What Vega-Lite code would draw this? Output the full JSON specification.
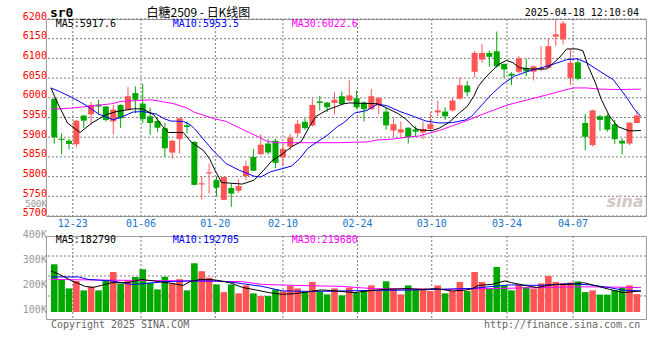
{
"$schema":"https://vega.github.io/schema/vega-lite/v6.json",
"background":"#ffffff",
"padding":{"left":21.9,"top":5,"right":10,"bottom":10},
"bounds":"flush",
"spacing":20,
"config":{"view":{"stroke":"#999999","strokeWidth":1},"font":"DejaVu Sans Mono"},
"datasets":{
"k":[
{"i":0,"o":5997,"h":6000,"l":5884,"c":5900,"v":292000},
{"i":1,"o":5896,"h":5910,"l":5857,"c":5893,"v":232000},
{"i":2,"o":5891,"h":5896,"l":5869,"c":5883,"v":195000},
{"i":3,"o":5882,"h":5944,"l":5874,"c":5942,"v":225000},
{"i":4,"o":5955,"h":5956,"l":5923,"c":5942,"v":187000},
{"i":5,"o":5958,"h":5990,"l":5931,"c":5982,"v":202000},
{"i":6,"o":5983,"h":5995,"l":5957,"c":5978,"v":187000},
{"i":7,"o":5978,"h":5979,"l":5940,"c":5944,"v":225000},
{"i":8,"o":5940,"h":5982,"l":5907,"c":5970,"v":261000},
{"i":9,"o":5982,"h":5983,"l":5923,"c":5948,"v":214000},
{"i":10,"o":5970,"h":6027,"l":5968,"c":6004,"v":225000},
{"i":11,"o":6012,"h":6029,"l":5961,"c":5995,"v":241000},
{"i":12,"o":5985,"h":6035,"l":5936,"c":5946,"v":272000},
{"i":13,"o":5953,"h":5975,"l":5906,"c":5936,"v":218000},
{"i":14,"o":5941,"h":5948,"l":5913,"c":5924,"v":191000},
{"i":15,"o":5923,"h":5936,"l":5850,"c":5872,"v":242000},
{"i":16,"o":5861,"h":5893,"l":5846,"c":5891,"v":215000},
{"i":17,"o":5895,"h":5948,"l":5859,"c":5948,"v":232000},
{"i":18,"o":5930,"h":5940,"l":5910,"c":5926,"v":187000},
{"i":19,"o":5888,"h":5890,"l":5778,"c":5779,"v":296000},
{"i":20,"o":5780,"h":5800,"l":5742,"c":5783,"v":264000},
{"i":21,"o":5808,"h":5833,"l":5757,"c":5811,"v":238000},
{"i":22,"o":5791,"h":5799,"l":5751,"c":5772,"v":211000},
{"i":23,"o":5741,"h":5800,"l":5740,"c":5799,"v":180000},
{"i":24,"o":5771,"h":5782,"l":5723,"c":5757,"v":211000},
{"i":25,"o":5764,"h":5793,"l":5759,"c":5776,"v":175000},
{"i":26,"o":5801,"h":5840,"l":5791,"c":5827,"v":207000},
{"i":27,"o":5850,"h":5870,"l":5814,"c":5815,"v":175000},
{"i":28,"o":5857,"h":5908,"l":5855,"c":5881,"v":164000},
{"i":29,"o":5884,"h":5895,"l":5856,"c":5861,"v":164000},
{"i":30,"o":5891,"h":5897,"l":5821,"c":5835,"v":191000},
{"i":31,"o":5849,"h":5883,"l":5827,"c":5870,"v":183000},
{"i":32,"o":5876,"h":5908,"l":5867,"c":5899,"v":205000},
{"i":33,"o":5910,"h":5944,"l":5901,"c":5934,"v":195000},
{"i":34,"o":5939,"h":5948,"l":5919,"c":5923,"v":180000},
{"i":35,"o":5930,"h":5999,"l":5927,"c":5982,"v":221000},
{"i":36,"o":5991,"h":6005,"l":5968,"c":5987,"v":183000},
{"i":37,"o":5988,"h":5989,"l":5964,"c":5976,"v":171000},
{"i":38,"o":5987,"h":6014,"l":5958,"c":5995,"v":195000},
{"i":39,"o":6004,"h":6016,"l":5983,"c":5984,"v":167000},
{"i":40,"o":5993,"h":6044,"l":5991,"c":6006,"v":198000},
{"i":41,"o":5999,"h":6019,"l":5971,"c":5976,"v":178000},
{"i":42,"o":5988,"h":5991,"l":5940,"c":5971,"v":187000},
{"i":43,"o":5971,"h":6022,"l":5970,"c":6004,"v":207000},
{"i":44,"o":5980,"h":6003,"l":5958,"c":5999,"v":184500},
{"i":45,"o":5965,"h":5976,"l":5919,"c":5930,"v":223500},
{"i":46,"o":5917,"h":5948,"l":5901,"c":5933,"v":194000},
{"i":47,"o":5912,"h":5940,"l":5901,"c":5920,"v":171000},
{"i":48,"o":5924,"h":5925,"l":5884,"c":5900,"v":207000},
{"i":49,"o":5920,"h":5929,"l":5901,"c":5914,"v":191000},
{"i":50,"o":5912,"h":5940,"l":5895,"c":5921,"v":194000},
{"i":51,"o":5921,"h":5965,"l":5916,"c":5933,"v":184500},
{"i":52,"o":5963,"h":5993,"l":5953,"c":5968,"v":207000},
{"i":53,"o":5965,"h":5976,"l":5944,"c":5953,"v":175000},
{"i":54,"o":5968,"h":5999,"l":5965,"c":5993,"v":184500},
{"i":55,"o":5998,"h":6052,"l":5995,"c":6032,"v":221000},
{"i":56,"o":6031,"h":6042,"l":6004,"c":6014,"v":184500},
{"i":57,"o":6066,"h":6119,"l":6052,"c":6114,"v":261000},
{"i":58,"o":6097,"h":6137,"l":6089,"c":6114,"v":221000},
{"i":59,"o":6114,"h":6120,"l":6079,"c":6104,"v":194000},
{"i":60,"o":6118,"h":6168,"l":6076,"c":6080,"v":281000},
{"i":61,"o":6086,"h":6087,"l":6050,"c":6072,"v":205000},
{"i":62,"o":6061,"h":6065,"l":6032,"c":6056,"v":187000},
{"i":63,"o":6066,"h":6106,"l":6063,"c":6100,"v":211000},
{"i":64,"o":6076,"h":6099,"l":6055,"c":6067,"v":200000},
{"i":65,"o":6066,"h":6082,"l":6044,"c":6080,"v":194000},
{"i":66,"o":6072,"h":6131,"l":6067,"c":6076,"v":215000},
{"i":67,"o":6076,"h":6151,"l":6073,"c":6131,"v":245000},
{"i":68,"o":6155,"h":6199,"l":6131,"c":6161,"v":221000},
{"i":69,"o":6148,"h":6195,"l":6135,"c":6189,"v":216000},
{"i":70,"o":6050,"h":6123,"l":6033,"c":6089,"v":219000},
{"i":71,"o":6090,"h":6101,"l":6044,"c":6048,"v":223000},
{"i":72,"o":5936,"h":5959,"l":5867,"c":5901,"v":180000},
{"i":73,"o":5880,"h":5970,"l":5876,"c":5968,"v":187000},
{"i":74,"o":5953,"h":5957,"l":5916,"c":5944,"v":170000},
{"i":75,"o":5954,"h":5959,"l":5914,"c":5919,"v":170000},
{"i":76,"o":5933,"h":5944,"l":5883,"c":5895,"v":187000},
{"i":77,"o":5891,"h":5897,"l":5856,"c":5884,"v":199000},
{"i":78,"o":5884,"h":5938,"l":5880,"c":5937,"v":207000},
{"i":79,"o":5936,"h":5968,"l":5936,"c":5955,"v":172000}
],
"ma5":[{"i":-0.45,"m":6025},{"i":0.5,"m":5985},{"i":1.8,"m":5936},{"i":3.5,"m":5912},{"i":5.1,"m":5936},{"i":7,"m":5957},{"i":8.4,"m":5965},{"i":10.7,"m":5972},{"i":12,"m":5972},{"i":13.5,"m":5957},{"i":14.7,"m":5927},{"i":15.5,"m":5912},{"i":17.5,"m":5912},{"i":18.4,"m":5891},{"i":19,"m":5882},{"i":20.2,"m":5867},{"i":21.1,"m":5844},{"i":21.8,"m":5816},{"i":22.7,"m":5785},{"i":25.5,"m":5781},{"i":27.1,"m":5791},{"i":28.4,"m":5816},{"i":29.5,"m":5840},{"i":30.9,"m":5857},{"i":32.2,"m":5876},{"i":33.5,"m":5889},{"i":34.6,"m":5927},{"i":35.5,"m":5953},{"i":37.1,"m":5970},{"i":39.3,"m":5985},{"i":40,"m":5987},{"i":43.8,"m":5985},{"i":45.1,"m":5974},{"i":46.7,"m":5959},{"i":47.8,"m":5944},{"i":48.9,"m":5923},{"i":49.6,"m":5918},{"i":51.3,"m":5917},{"i":52.2,"m":5923},{"i":53.5,"m":5937},{"i":54.9,"m":5961},{"i":56,"m":5978},{"i":56.9,"m":6004},{"i":57.5,"m":6029},{"i":58.4,"m":6050},{"i":59.6,"m":6073},{"i":60.2,"m":6084},{"i":61.3,"m":6095},{"i":62.2,"m":6089},{"i":63.1,"m":6076},{"i":64.7,"m":6073},{"i":66.7,"m":6073},{"i":67.3,"m":6082},{"i":68.4,"m":6100},{"i":69.5,"m":6124},{"i":70.9,"m":6124},{"i":71.7,"m":6119},{"i":72.4,"m":6080},{"i":73.3,"m":6042},{"i":74.2,"m":5995},{"i":75.3,"m":5953},{"i":76.4,"m":5927},{"i":78,"m":5916},{"i":79.55,"m":5917}],
"ma10":[{"i":-0.45,"m":6025},{"i":0.7,"m":6016},{"i":2.4,"m":6001},{"i":4.4,"m":5980},{"i":6,"m":5959},{"i":8,"m":5944},{"i":9.1,"m":5951},{"i":10.7,"m":5964},{"i":12,"m":5965},{"i":13.8,"m":5959},{"i":14.9,"m":5947},{"i":15.8,"m":5941},{"i":17.5,"m":5940},{"i":18.4,"m":5932},{"i":19,"m":5922},{"i":20,"m":5900},{"i":21.5,"m":5867},{"i":23.3,"m":5833},{"i":25.1,"m":5816},{"i":27.1,"m":5801},{"i":28,"m":5799},{"i":29.3,"m":5812},{"i":31.1,"m":5821},{"i":32.2,"m":5827},{"i":33.3,"m":5846},{"i":34.4,"m":5872},{"i":35.5,"m":5886},{"i":37.1,"m":5906},{"i":38.4,"m":5927},{"i":39.2,"m":5936},{"i":40.7,"m":5961},{"i":42.4,"m":5968},{"i":43.8,"m":5984},{"i":45.1,"m":5980},{"i":46.9,"m":5965},{"i":48.7,"m":5953},{"i":50.4,"m":5941},{"i":52.2,"m":5936},{"i":54,"m":5937},{"i":55.8,"m":5944},{"i":56.6,"m":5953},{"i":58,"m":5982},{"i":58.9,"m":6001},{"i":59.6,"m":6014},{"i":60.7,"m":6033},{"i":62.4,"m":6055},{"i":64.2,"m":6067},{"i":66,"m":6076},{"i":67.8,"m":6086},{"i":69.5,"m":6097},{"i":70.9,"m":6099},{"i":72.2,"m":6089},{"i":74,"m":6067},{"i":75.8,"m":6046},{"i":77.5,"m":6004},{"i":78.7,"m":5970},{"i":79.55,"m":5953}],
"ma30":[{"i":-0.45,"m":5971},{"i":2.4,"m":5974},{"i":5.5,"m":5980},{"i":7.8,"m":5985},{"i":9.1,"m":5991},{"i":11.3,"m":5993},{"i":13.1,"m":5995},{"i":14.4,"m":5991},{"i":16.2,"m":5985},{"i":18,"m":5974},{"i":18.9,"m":5964},{"i":21.5,"m":5948},{"i":23.3,"m":5940},{"i":25.5,"m":5920},{"i":27.8,"m":5900},{"i":28.9,"m":5889},{"i":30.4,"m":5886},{"i":38.4,"m":5886},{"i":42.4,"m":5888},{"i":43.8,"m":5893},{"i":45.8,"m":5895},{"i":47.8,"m":5900},{"i":49.5,"m":5903},{"i":50.4,"m":5908},{"i":52.2,"m":5917},{"i":54,"m":5929},{"i":55.8,"m":5941},{"i":57.5,"m":5954},{"i":58.9,"m":5964},{"i":61.5,"m":5982},{"i":64.2,"m":5995},{"i":66.9,"m":6008},{"i":69.1,"m":6019},{"i":70.4,"m":6025},{"i":72.2,"m":6025},{"i":74,"m":6022},{"i":76.6,"m":6021},{"i":79.55,"m":6022}],
"vma5":[{"i":-0.45,"m":265000},{"i":0.66,"m":252000},{"i":2.4,"m":225000},{"i":4.2,"m":203000},{"i":5.3,"m":199000},{"i":6.4,"m":207000},{"i":7.8,"m":218000},{"i":10,"m":218000},{"i":11.8,"m":231000},{"i":13.5,"m":225000},{"i":15.8,"m":216000},{"i":17.5,"m":207000},{"i":18.4,"m":222000},{"i":19.8,"m":231000},{"i":21.1,"m":231000},{"i":22,"m":228000},{"i":23.8,"m":218000},{"i":25.5,"m":199000},{"i":27.3,"m":189000},{"i":29.1,"m":178000},{"i":30.9,"m":171000},{"i":32.7,"m":174000},{"i":34.4,"m":181000},{"i":36.2,"m":189000},{"i":38,"m":185000},{"i":40.7,"m":178000},{"i":42.4,"m":184500},{"i":44.7,"m":191000},{"i":47.8,"m":194000},{"i":50,"m":191000},{"i":51.8,"m":194000},{"i":54,"m":184500},{"i":55.8,"m":188000},{"i":56.7,"m":194000},{"i":57.5,"m":207000},{"i":59.3,"m":211000},{"i":61.1,"m":225000},{"i":62,"m":218000},{"i":63.8,"m":207000},{"i":65.5,"m":198000},{"i":66.9,"m":207000},{"i":68.2,"m":211000},{"i":70,"m":211000},{"i":71.8,"m":218000},{"i":73.5,"m":205000},{"i":75.3,"m":191000},{"i":77.1,"m":178000},{"i":79.55,"m":184500}],
"vma10":[{"i":-0.45,"m":241000},{"i":3.3,"m":241000},{"i":4.6,"m":231000},{"i":7.8,"m":225000},{"i":10.5,"m":211000},{"i":12.2,"m":214000},{"i":14.9,"m":222000},{"i":18.4,"m":225000},{"i":22,"m":225000},{"i":23.8,"m":221000},{"i":25.5,"m":214000},{"i":28.2,"m":203000},{"i":30.9,"m":185000},{"i":34.4,"m":183000},{"i":38,"m":184000},{"i":43.3,"m":187000},{"i":47.8,"m":188000},{"i":52.2,"m":191000},{"i":56.7,"m":195000},{"i":60.2,"m":205000},{"i":62,"m":209000},{"i":65.5,"m":207000},{"i":70,"m":214000},{"i":72.7,"m":209000},{"i":75.3,"m":198000},{"i":77.1,"m":188000},{"i":79.55,"m":184500}],
"vma30":[{"i":-0.45,"m":231000},{"i":7.8,"m":228000},{"i":18.4,"m":225000},{"i":25.5,"m":222000},{"i":28.2,"m":211000},{"i":32.7,"m":207000},{"i":38.9,"m":203000},{"i":43.3,"m":194000},{"i":52.2,"m":191000},{"i":58.9,"m":194000},{"i":65.5,"m":198000},{"i":70,"m":201000},{"i":74.4,"m":201000},{"i":79.55,"m":198000}],
"dates":[{"pos":2.52,"d":"12-23"},{"pos":11.77,"d":"01-06"},{"pos":21.84,"d":"01-20"},{"pos":31.01,"d":"02-10"},{"pos":41.11,"d":"02-24"},{"pos":51.19,"d":"03-10"},{"pos":61.39,"d":"03-24"},{"pos":70.35,"d":"04-07"}],
"plev":[{"p":5700},{"p":5750},{"p":5800},{"p":5850},{"p":5900},{"p":5950},{"p":6000},{"p":6050},{"p":6100},{"p":6150},{"p":6200}],
"vlab":[{"v":100000,"t":"100K"},{"v":200000,"t":"200K"},{"v":300000,"t":"300K"},{"v":400000,"t":"400K"}],
"vgrid":[{"g":325300},{"g":244900},{"g":164400}]
},
"vconcat":[
{
"width":600,"height":197,
"layer":[
{"data":{"name":"plev"},"mark":{"type":"rule","color":"#777777","strokeDash":[2,2],"strokeWidth":1},
 "encoding":{"y":{"field":"p","type":"quantitative","scale":{"domain":[5700,6200],"nice":false,"zero":false},"axis":null}}},
{"data":{"name":"dates"},"mark":{"type":"rule","color":"#777777","strokeDash":[2,2],"strokeWidth":1},
 "encoding":{"x":{"field":"pos","type":"quantitative","scale":{"domain":[-0.453,79.547],"nice":false,"zero":false},"axis":null}}},
{"data":{"name":"dates"},"mark":{"type":"text","align":"center","baseline":"top","dy":3,"font":"DejaVu Sans Mono","fontSize":10,"color":"#1a75c8"},
 "encoding":{"x":{"field":"pos","type":"quantitative","axis":null},"y":{"datum":5700,"type":"quantitative","axis":null},"text":{"field":"d"}}},
{"data":{"name":"plev"},"mark":{"type":"text","align":"right","baseline":"middle","dx":-4,"dy":-2.5,"font":"DejaVu Sans Mono","fontSize":10,"color":"#ff0000"},
 "encoding":{"x":{"datum":-0.453,"type":"quantitative","axis":null},"y":{"field":"p","type":"quantitative","axis":null},"text":{"field":"p","type":"quantitative","format":"d"}}},
{"data":{"name":"k"},"mark":{"type":"rule","strokeWidth":1},
 "encoding":{
  "x":{"field":"i","type":"quantitative","axis":null},
  "y":{"field":"l","type":"quantitative","axis":null},
  "y2":{"field":"h"},
  "color":{"condition":{"test":"datum.c >= datum.o","value":"#ff5555"},"value":"#00a800"}
 }},
{"data":{"name":"k"},"mark":{"type":"bar","size":6},
 "encoding":{
  "x":{"field":"i","type":"quantitative","axis":null},
  "y":{"field":"o","type":"quantitative","axis":null},
  "y2":{"field":"c"},
  "color":{"condition":{"test":"datum.c >= datum.o","value":"#ff5555"},"value":"#00a800"}
 }},
{"data":{"name":"ma30"},"mark":{"type":"line","color":"#ff00ff","strokeWidth":1},
 "encoding":{"x":{"field":"i","type":"quantitative","axis":null},"y":{"field":"m","type":"quantitative","axis":null}}},
{"data":{"name":"ma10"},"mark":{"type":"line","color":"#0000ff","strokeWidth":1},
 "encoding":{"x":{"field":"i","type":"quantitative","axis":null},"y":{"field":"m","type":"quantitative","axis":null}}},
{"data":{"name":"ma5"},"mark":{"type":"line","color":"#000000","strokeWidth":1},
 "encoding":{"x":{"field":"i","type":"quantitative","axis":null},"y":{"field":"m","type":"quantitative","axis":null}}},
{"data":{"values":[{}]},"mark":{"type":"text","align":"left","baseline":"middle","font":"DejaVu Sans Mono","fontSize":13,"fontWeight":"bold","color":"#000000"},
 "encoding":{"x":{"datum":-0.587,"type":"quantitative","axis":null},"y":{"datum":6216.5,"type":"quantitative","axis":null},"text":{"value":"sr0"}}},
{"data":{"values":[{}]},"mark":{"type":"text","align":"center","baseline":"middle","font":"Noto Sans CJK SC","fontSize":12,"color":"#000000"},
 "encoding":{"x":{"datum":19.55,"type":"quantitative","axis":null},"y":{"datum":6216.5,"type":"quantitative","axis":null},"text":{"value":"白糖2509 - 日K线图"}}},
{"data":{"values":[{}]},"mark":{"type":"text","align":"right","baseline":"middle","font":"DejaVu Sans Mono","fontSize":10,"color":"#000000"},
 "encoding":{"x":{"datum":79.28,"type":"quantitative","axis":null},"y":{"datum":6215.5,"type":"quantitative","axis":null},"text":{"value":"2025-04-18 12:10:04"}}},
{"data":{"values":[{}]},"mark":{"type":"text","align":"left","baseline":"middle","font":"DejaVu Sans Mono","fontSize":10,"color":"#000000"},
 "encoding":{"x":{"datum":0.213,"type":"quantitative","axis":null},"y":{"datum":6187,"type":"quantitative","axis":null},"text":{"value":"MA5:5917.6"}}},
{"data":{"values":[{}]},"mark":{"type":"text","align":"left","baseline":"middle","font":"DejaVu Sans Mono","fontSize":10,"color":"#0000ff"},
 "encoding":{"x":{"datum":16.08,"type":"quantitative","axis":null},"y":{"datum":6187,"type":"quantitative","axis":null},"text":{"value":"MA10:5953.5"}}},
{"data":{"values":[{}]},"mark":{"type":"text","align":"left","baseline":"middle","font":"DejaVu Sans Mono","fontSize":10,"color":"#ff00ff"},
 "encoding":{"x":{"datum":32.2,"type":"quantitative","axis":null},"y":{"datum":6187,"type":"quantitative","axis":null},"text":{"value":"MA30:6022.6"}}},
{"data":{"values":[{}]},"mark":{"type":"text","align":"right","baseline":"middle","dx":-4,"font":"DejaVu Sans Mono","fontSize":9,"color":"#999999"},
 "encoding":{"x":{"datum":-0.453,"type":"quantitative","axis":null},"y":{"datum":5730.4,"type":"quantitative","axis":null},"text":{"value":"500K"}}},
{"data":{"values":[{}]},"mark":{"type":"text","align":"center","baseline":"middle","font":"DejaVu Sans","fontSize":16,"fontWeight":"bold","fontStyle":"italic","color":"#d4c6c6"},
 "encoding":{"x":{"datum":77.4,"type":"quantitative","axis":null},"y":{"datum":5735,"type":"quantitative","axis":null},"text":{"value":"sina"}}}
]
},
{
"width":600,"height":83,
"layer":[
{"data":{"name":"vgrid"},"mark":{"type":"rule","color":"#777777","strokeDash":[2,2],"strokeWidth":1},
 "encoding":{"y":{"field":"g","type":"quantitative","scale":{"domain":[71800,405800],"nice":false,"zero":false},"axis":null}}},
{"data":{"name":"dates"},"mark":{"type":"rule","color":"#777777","strokeDash":[2,2],"strokeWidth":1},
 "encoding":{"x":{"field":"pos","type":"quantitative","scale":{"domain":[-0.453,79.547],"nice":false,"zero":false},"axis":null}}},
{"data":{"name":"vlab"},"mark":{"type":"text","align":"right","baseline":"middle","dx":-4,"dy":-2,"font":"DejaVu Sans Mono","fontSize":10,"color":"#999999"},
 "encoding":{"x":{"datum":-0.453,"type":"quantitative","axis":null},"y":{"field":"v","type":"quantitative","axis":null},"text":{"field":"t"}}},
{"data":{"name":"k"},"mark":{"type":"bar","size":6.6},
 "encoding":{
  "x":{"field":"i","type":"quantitative","axis":null},
  "y":{"field":"v","type":"quantitative","axis":null},
  "y2":{"datum":100000},
  "color":{"condition":{"test":"datum.c >= datum.o","value":"#ff5555"},"value":"#00a800"}
 }},
{"data":{"name":"vma30"},"mark":{"type":"line","color":"#ff00ff","strokeWidth":1},
 "encoding":{"x":{"field":"i","type":"quantitative","axis":null},"y":{"field":"m","type":"quantitative","axis":null}}},
{"data":{"name":"vma10"},"mark":{"type":"line","color":"#0000ff","strokeWidth":1},
 "encoding":{"x":{"field":"i","type":"quantitative","axis":null},"y":{"field":"m","type":"quantitative","axis":null}}},
{"data":{"name":"vma5"},"mark":{"type":"line","color":"#000000","strokeWidth":1},
 "encoding":{"x":{"field":"i","type":"quantitative","axis":null},"y":{"field":"m","type":"quantitative","axis":null}}},
{"data":{"values":[{}]},"mark":{"type":"text","align":"left","baseline":"middle","font":"DejaVu Sans Mono","fontSize":10,"color":"#000000"},
 "encoding":{"x":{"datum":0.213,"type":"quantitative","axis":null},"y":{"datum":390500,"type":"quantitative","axis":null},"text":{"value":"MA5:182790"}}},
{"data":{"values":[{}]},"mark":{"type":"text","align":"left","baseline":"middle","font":"DejaVu Sans Mono","fontSize":10,"color":"#0000ff"},
 "encoding":{"x":{"datum":16.08,"type":"quantitative","axis":null},"y":{"datum":390500,"type":"quantitative","axis":null},"text":{"value":"MA10:192705"}}},
{"data":{"values":[{}]},"mark":{"type":"text","align":"left","baseline":"middle","font":"DejaVu Sans Mono","fontSize":10,"color":"#ff00ff"},
 "encoding":{"x":{"datum":32.2,"type":"quantitative","axis":null},"y":{"datum":390500,"type":"quantitative","axis":null},"text":{"value":"MA30:219680"}}},
{"data":{"values":[{}]},"mark":{"type":"text","align":"left","baseline":"middle","font":"DejaVu Sans Mono","fontSize":10,"color":"#666666"},
 "encoding":{"x":{"datum":-0.453,"type":"quantitative","axis":null},"y":{"datum":49300,"type":"quantitative","axis":null},"text":{"value":"Copyright 2025 SINA.COM"}}},
{"data":{"values":[{}]},"mark":{"type":"text","align":"right","baseline":"middle","font":"DejaVu Sans Mono","fontSize":10,"color":"#666666"},
 "encoding":{"x":{"datum":79.45,"type":"quantitative","axis":null},"y":{"datum":49300,"type":"quantitative","axis":null},"text":{"value":"http://finance.sina.com.cn"}}}
]
}
]
}
